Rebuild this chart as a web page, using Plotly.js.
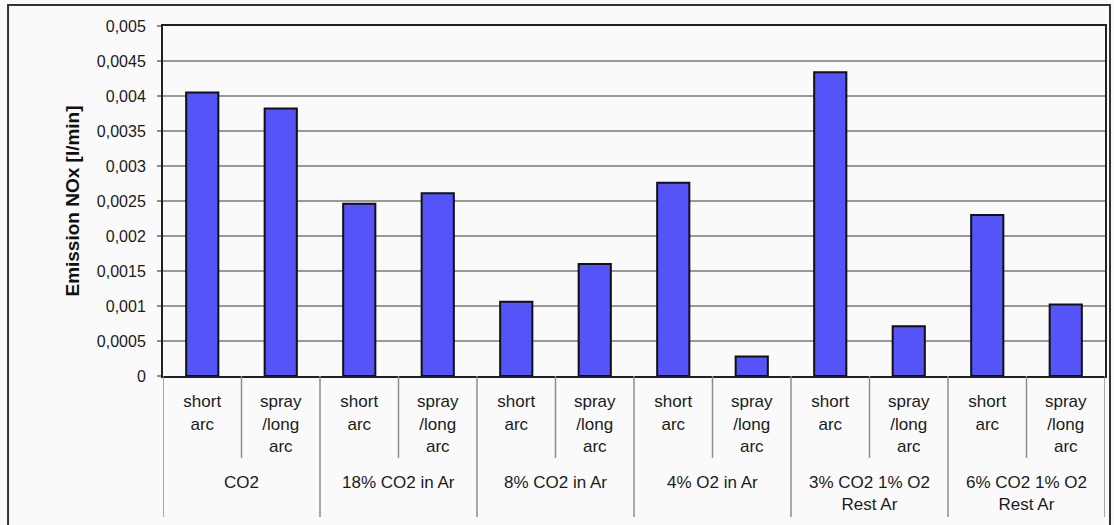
<!DOCTYPE html>
<html>
<head>
<meta charset="utf-8">
<script src="https://cdn.plot.ly/plotly-3.0.1.min.js"></script>
<style>
  html, body { margin: 0; padding: 0; background: #fafafa; }
  #chart { width: 1114px; height: 525px; }
</style>
</head>
<body>
<div id="chart"></div>
<script>
// Shielding gas mixtures (outer category level)
const gasMixtures = [
  "CO2",
  "18% CO2 in Ar",
  "8% CO2 in Ar",
  "4% O2 in Ar",
  "3% CO2 1% O2<br>Rest Ar",
  "6% CO2 1% O2<br>Rest Ar"
];
// Arc modes (inner category level)
const arcModes = ["short<br>arc", "spray<br>/long<br>arc"];
// NOx emission in l/min, per gas mixture
const noxShortArc = [0.00405, 0.00246, 0.00106, 0.00276, 0.00434, 0.00230];
const noxSprayArc = [0.00382, 0.00261, 0.00160, 0.00028, 0.00071, 0.00102];

// One bar per (gas, mode) pair, placed at consecutive slots 0..n-1
const slots = [], innerLabels = [], values = [];
gasMixtures.forEach((gas, g) => {
  [noxShortArc[g], noxSprayArc[g]].forEach((v, m) => {
    slots.push(slots.length);
    innerLabels.push(arcModes[m]);
    values.push(v);
  });
});
const perGroup = arcModes.length;
const nSlots = slots.length;

const font = "Liberation Sans, Arial, Helvetica, sans-serif";
const gray = "#8c8c8c";

// Category separators below the axis: short ones between arc modes,
// long ones between gas mixtures (and at both ends)
const PAD_TICK = -0.234;   // bottom of short separators (paper units)
const PAD_GROUP = -0.403;  // bottom of long separators
const shapes = [];
for (let b = 0; b <= nSlots; b++) {
  const isGroupEdge = b % perGroup === 0;
  shapes.push({
    type: "line", xref: "x", yref: "paper",
    x0: b - 0.5, x1: b - 0.5, y0: 0, y1: isGroupEdge ? PAD_GROUP : PAD_TICK,
    line: { color: gray, width: 1.5 }
  });
}
// Outer frame of the whole figure
shapes.push({
  type: "rect", xref: "paper", yref: "paper",
  x0: -0.1645, x1: 1.0053, y0: -0.44, y1: 1.06,
  line: { color: "#333333", width: 2 },
  fillcolor: "rgba(0,0,0,0)", layer: "below"
});

// Gas mixture labels centred under each pair of bars
const annotations = gasMixtures.map((gas, g) => ({
  xref: "x", yref: "paper",
  x: g * perGroup + (perGroup - 1) / 2, y: -0.272,
  xanchor: "center", yanchor: "top",
  text: gas, showarrow: false,
  font: { family: font, size: 17, color: "#1a1a1a" }
}));

const trace = {
  type: "bar",
  x: slots,
  y: values,
  width: 0.41,
  marker: {
    color: "rgb(84,84,248)",
    line: { color: "#111111", width: 2 }
  },
  hoverinfo: "y"
};

const layout = {
  width: 1114,
  height: 525,
  margin: { l: 163, r: 9, t: 26, b: 149 },
  paper_bgcolor: "#fafafa",
  plot_bgcolor: "#fafafa",
  separators: ", ",
  showlegend: false,
  font: { family: font, color: "#1a1a1a" },
  xaxis: {
    type: "linear",
    range: [-0.5, nSlots - 0.5],
    tickmode: "array",
    tickvals: slots,
    ticktext: innerLabels,
    ticks: "",
    ticklabelstandoff: 9,
    showline: true,
    linecolor: "#222222",
    linewidth: 2,
    mirror: true,
    showgrid: false,
    zeroline: false,
    tickfont: { family: font, size: 17, color: "#1a1a1a" }
  },
  yaxis: {
    range: [0, 0.005],
    dtick: 0.0005,
    tick0: 0,
    showline: true,
    linecolor: "#222222",
    linewidth: 2,
    mirror: true,
    ticks: "outside",
    ticklen: 4,
    tickcolor: gray,
    tickwidth: 1.5,
    ticklabelstandoff: 8,
    gridcolor: "#999999",
    gridwidth: 1.5,
    zeroline: false,
    tickfont: { family: font, size: 16, color: "#1a1a1a" },
    title: {
      text: "<b>Emission NOx [l/min]</b>",
      font: { family: font, size: 19, color: "#111111" },
      standoff: 12
    }
  },
  shapes: shapes,
  annotations: annotations
};

Plotly.newPlot("chart", [trace], layout, { displayModeBar: false, staticPlot: true });
</script>
</body>
</html>
